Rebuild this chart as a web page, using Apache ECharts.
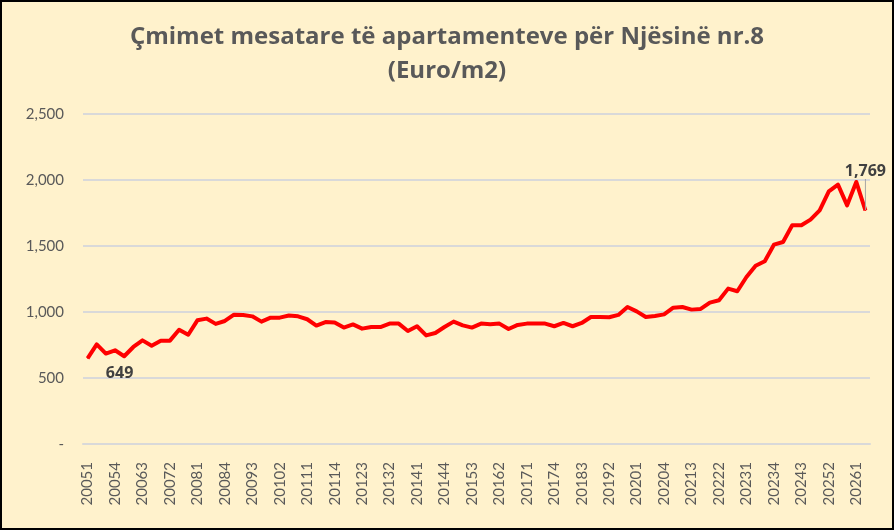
<!DOCTYPE html>
<html>
<head>
<meta charset="utf-8">
<script src="https://cdn.jsdelivr.net/npm/echarts@6/dist/echarts.min.js"></script>
<style>
  html, body { margin: 0; padding: 0; background: #fff; }
  #chart { width: 894px; height: 530px; box-sizing: border-box; border: 2px solid #000; background: #FFF2CC; }
</style>
</head>
<body>
<div id="chart"></div>
<script>
const years = [2005, 2006, 2007, 2008, 2009, 2010, 2011, 2012, 2013, 2014, 2015, 2016, 2017, 2018, 2019, 2020, 2021, 2022, 2023, 2024, 2025, 2026]

// quarters 2005 Q1 .. 2026 Q2
const quarters = []
years.forEach(y => [1, 2, 3, 4].forEach(q => quarters.push(y + '' + q)))
quarters.length = 86

const prices = [
    649, 755, 685, 710, 665, 735, 785, 745, 783, 783,
    866, 828, 937, 950, 910, 932, 980, 978, 967, 927,
    957, 957, 973, 967, 945, 897, 924, 920, 882, 906,
    874, 886, 886, 912, 912, 856, 892, 823, 841, 886,
    927, 899, 882, 912, 907, 912, 871, 902, 912, 912,
    912, 892, 917, 892, 917, 962, 962, 960, 978, 1038,
    1005, 962, 970, 982, 1033, 1038, 1018, 1023, 1071, 1089,
    1177, 1157, 1265, 1350, 1384, 1510, 1530, 1657, 1657, 1700,
    1770, 1914, 1965, 1808, 1985, 1769
]

const yTicks = { min: 0, max: 2500, step: 500 }

const fmt = v => v === 0 ? '-' : v.toLocaleString('en-US')

const last = prices.length - 1
const seriesData = prices.map((v, i) => {
    if (i === 0) {
        return { value: v, symbol: 'circle', symbolSize: 1, label: { show: true, position: 'bottom' }, labelLine: { show: false } }
    }
    if (i === last) {
        return { value: v, symbol: 'circle', symbolSize: 1, label: { show: true, position: 'top' }, labelLine: { show: true } }
    }
    return v
})

const chart = echarts.init(document.getElementById('chart'))
chart.setOption({
    animation: false,
    title: {
        text: 'Çmimet mesatare të apartamenteve për Njësinë nr.8\n(Euro/m2)',
        left: 'center',
        top: 13,
        textStyle: {
            fontFamily: 'Open Sans',
            fontSize: 24,
            fontWeight: 'bold',
            color: '#595959',
            lineHeight: 34
        }
    },
    grid: { left: 81, right: 22, top: 112, bottom: 84 },
    xAxis: {
        type: 'category',
        data: quarters,
        boundaryGap: true,
        axisLine: { lineStyle: { color: '#D9D9D9', width: 2 } },
        axisTick: { show: false },
        axisLabel: {
            interval: 2,
            rotate: 90,
            fontFamily: 'Lato',
            fontSize: 15,
            color: '#595959',
            margin: 18
        }
    },
    yAxis: {
        type: 'value',
        min: yTicks.min,
        max: yTicks.max,
        interval: yTicks.step,
        axisLine: { show: false },
        axisTick: { show: false },
        splitLine: { lineStyle: { color: '#D9D9D9', width: 2 } },
        axisLabel: {
            formatter: fmt,
            fontFamily: 'Lato',
            fontSize: 15,
            color: '#595959',
            margin: 19
        }
    },
    series: [{
        type: 'line',
        data: seriesData,
        showSymbol: true,
        symbol: 'none',
        itemStyle: { color: '#FF0000' },
        lineStyle: { color: '#FF0000', width: 4, join: 'round' },
        label: {
            formatter: p => fmt(p.value),
            fontFamily: 'Open Sans',
            fontSize: 16,
            fontWeight: 'bold',
            color: '#404040'
        },
        labelLine: { lineStyle: { color: '#A6A6A6', width: 1 } },
        labelLayout: p => {
            if (p.dataIndex === 0) return { dx: 32, dy: 2 }
            if (p.dataIndex === last) return { dy: -26 }
            return {}
        }
    }]
})
</script>
</body>
</html>
